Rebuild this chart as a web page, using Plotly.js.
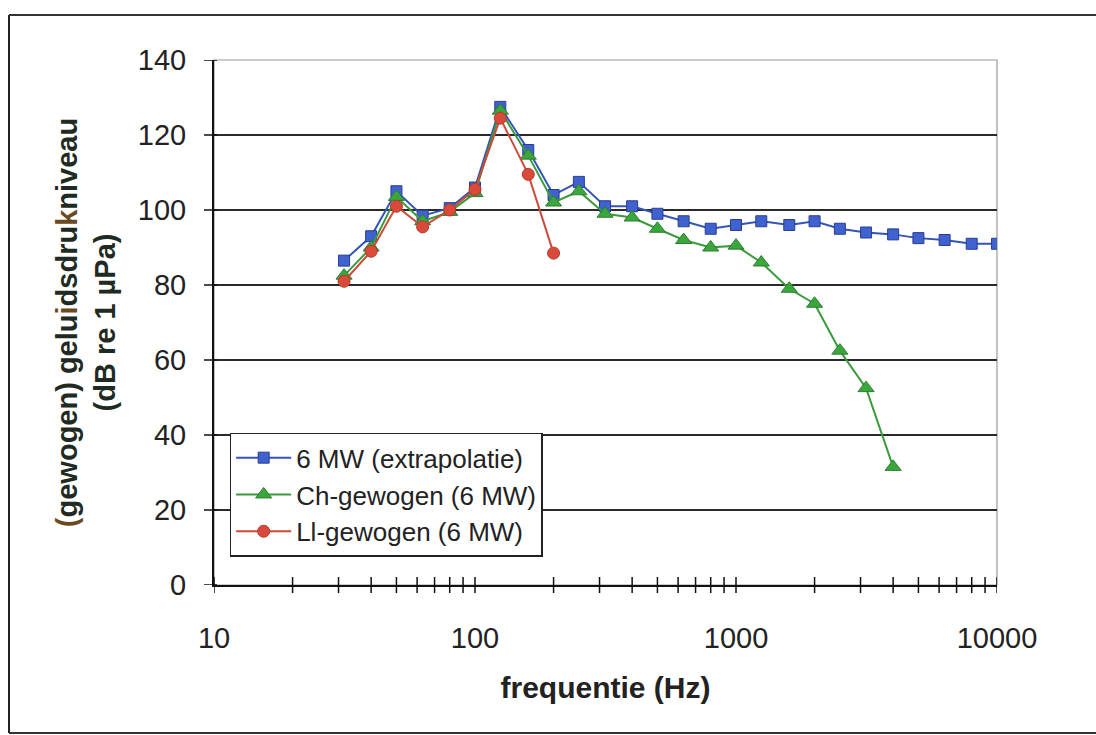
<!DOCTYPE html>
<html>
<head>
<meta charset="utf-8">
<script src="https://cdn.plot.ly/plotly-3.0.1.min.js"></script>
<style>
html,body{margin:0;padding:0;background:#fff;}
#chart{width:1096px;height:735px;}
</style>
</head>
<body>
<div id="chart"></div>
<script>
// Data (1/3-octave band centre frequencies, Hz)
const freqs = [31.5, 40, 50, 63, 80, 100, 125, 160, 200, 250, 315, 400, 500, 630, 800, 1000, 1250, 1600, 2000, 2500, 3150, 4000, 5000, 6300, 8000, 10000];
const blueVals  = [86.5, 93, 105, 98.5, 100.5, 106, 127.5, 116, 104, 107.5, 101, 101, 99, 97, 95, 96, 97, 96, 97, 95, 94, 93.5, 92.5, 92, 91, 91];
const greenVals = [82.5, 90, 103.5, 97, 99.5, 104.5, 126.5, 114.5, 102, 105, 99, 98, 95, 92, 90, 90.5, 86, 79, 75, 62.5, 52.5, 31.5];
const redVals   = [81, 89, 101, 95.5, 100, 105.5, 124.5, 109.5, 88.5];
const seriesNames = ['6 MW (extrapolatie)', 'Ch-gewogen (6 MW)', 'Ll-gewogen (6 MW)'];
const yTicks = [0, 20, 40, 60, 80, 100, 120, 140];
const xMajor = [10, 100, 1000, 10000];
const xMajorLabels = ['10', '100', '1000', '10000'];
const xMultipliers = [1, 2, 3, 4, 5, 6, 7, 8, 9];

const FONT = 'Liberation Sans, Arial, sans-serif';
const plotW = 783, plotH = 525;

const traces = [
  {
    x: freqs.slice(0, blueVals.length), y: blueVals, name: seriesNames[0],
    type: 'scatter', mode: 'lines+markers',
    line: {color: '#3355b5', width: 2},
    marker: {symbol: 'square', size: 11, color: '#3f62cf', line: {color: '#2a3c96', width: 1}}
  },
  {
    x: freqs.slice(0, greenVals.length), y: greenVals, name: seriesNames[1],
    type: 'scatter', mode: 'lines+markers',
    line: {color: '#3a9a3c', width: 2},
    marker: {symbol: 'triangle-up', size: 14, color: '#3aa63c', line: {color: '#2d7f30', width: 1}}
  },
  {
    x: freqs.slice(0, redVals.length), y: redVals, name: seriesNames[2],
    type: 'scatter', mode: 'lines+markers',
    line: {color: '#cc4a3a', width: 2},
    marker: {symbol: 'circle', size: 12, color: '#d94a3a', line: {color: '#b03a2e', width: 1}}
  }
];

// tick positions on log x axis
const xTickVals = [];
xMajor.slice(0, 3).forEach(d => xMultipliers.forEach(m => xTickVals.push(d * m)));
xTickVals.push(xMajor[3]);
const xTickText = xTickVals.map(v => {
  const i = xMajor.indexOf(v);
  return i >= 0 ? xMajorLabels[i] : '';
});

const shapes = [];
// plot area border (light gray)
shapes.push({type: 'rect', xref: 'paper', yref: 'paper', x0: 0, x1: 1, y0: 0, y1: 1,
  line: {color: '#9a9a9a', width: 1.2}, layer: 'below'});
// x ticks crossing the axis
xTickVals.forEach(v => shapes.push({type: 'line', xref: 'x', yref: 'paper', x0: v, x1: v,
  y0: -8 / plotH, y1: 8 / plotH, line: {color: '#111', width: 1.5}}));
// y ticks crossing the axis
yTicks.forEach(v => shapes.push({type: 'line', xref: 'paper', yref: 'y', x0: -10 / plotW, x1: 3 / plotW,
  y0: v, y1: v, line: {color: '#111', width: 1.5}}));
// outer frame (left, top, bottom)
const fx0 = (9 - 214) / plotW, fx1 = (1096 - 214) / plotW;
const fyTop = (585 - 15) / plotH, fyBot = (585 - 733) / plotH;
shapes.push({type: 'line', xref: 'paper', yref: 'paper', x0: fx0, x1: fx0, y0: fyBot, y1: fyTop, line: {color: '#222', width: 2}});
shapes.push({type: 'line', xref: 'paper', yref: 'paper', x0: fx0, x1: fx1, y0: fyTop, y1: fyTop, line: {color: '#333', width: 2}});
shapes.push({type: 'line', xref: 'paper', yref: 'paper', x0: fx0, x1: fx1, y0: fyBot, y1: fyBot, line: {color: '#333', width: 2}});

const brown = '#6b4a22';
const yTitle = '<span style="color:' + brown + '">(</span>gewogen) gelu<span style="color:' + brown + '">i</span>dsdru<span style="color:' + brown + '">k</span>niveau<br>(dB re 1 µPa)';

const layout = {
  width: 1096, height: 735,
  margin: {l: 214, r: 99, t: 60, b: 150},
  paper_bgcolor: '#ffffff', plot_bgcolor: '#ffffff',
  font: {family: FONT, color: '#222', size: 28},
  showlegend: true,
  legend: {
    x: 0.02, y: 0.29, xanchor: 'left', yanchor: 'top',
    bgcolor: '#ffffff', bordercolor: '#222', borderwidth: 1.5,
    font: {family: FONT, size: 26, color: '#222'},
    tracegroupgap: 0, itemwidth: 55
  },
  xaxis: {
    type: 'log', range: [1, 4], autorange: false,
    tickmode: 'array', tickvals: xTickVals, ticktext: xTickText,
    ticks: '', ticklabelstandoff: 26,
    tickfont: {family: FONT, size: 29, color: '#222'},
    showgrid: false, zeroline: false,
    showline: true, linecolor: '#111', linewidth: 2,
    title: {text: 'frequentie (Hz)', font: {family: FONT, size: 30, color: '#222', weight: 'bold'}, standoff: 24},
    automargin: false
  },
  yaxis: {
    range: [0, 140], autorange: false,
    tickmode: 'array', tickvals: yTicks,
    ticks: '', ticklabelstandoff: 20,
    tickfont: {family: FONT, size: 29, color: '#222'},
    showgrid: true, gridcolor: '#2a2a2a', gridwidth: 1.5,
    zeroline: false,
    showline: true, linecolor: '#111', linewidth: 2,
    title: {text: yTitle, font: {family: FONT, size: 29, color: '#1e2a22', weight: 'bold'}, standoff: 14},
    automargin: false
  },
  shapes: shapes
};

Plotly.newPlot('chart', traces, layout, {displayModeBar: false, staticPlot: true});
</script>
</body>
</html>
